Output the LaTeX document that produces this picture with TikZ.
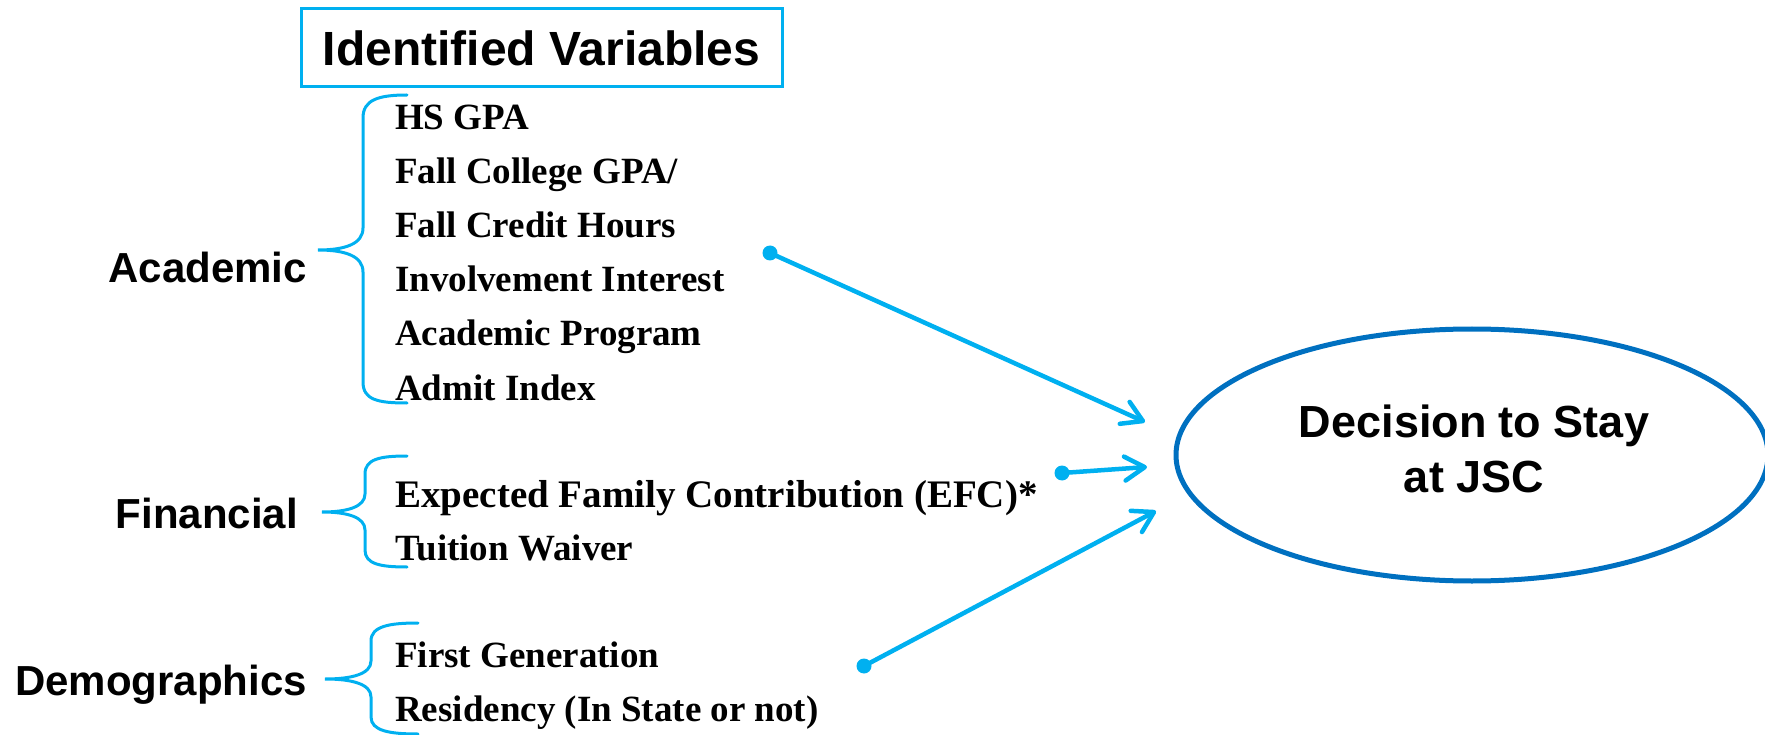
\documentclass[tikz,border=0pt]{standalone}
\usepackage{fontspec}
\setmainfont{Liberation Serif}
\newfontfamily\arialfont{Liberation Sans}
\usetikzlibrary{shapes.geometric,arrows.meta}
\definecolor{cyanline}{RGB}{0,176,240}
\definecolor{ovalblue}{RGB}{0,112,192}
\begin{document}
\begin{tikzpicture}[x=1pt,y=-1pt,
 item/.style={anchor=base west, inner sep=0pt, font=\fontsize{37}{44}\selectfont\bfseries},
 group/.style={anchor=base east, inner sep=0pt, font=\arialfont\fontsize{42}{48}\selectfont\bfseries},
 bracepath/.style={draw=cyanline, line width=3pt, line cap=round},
 link/.style={draw=cyanline, line width=4.5pt, line cap=round, -{Straight Barb[length=20pt,width=24pt,round]}},
 dotnode/.style={circle, fill=cyanline, inner sep=0pt, minimum size=15pt}]
\useasboundingbox (0,0) rectangle (1765,735);

% title
\node[draw=cyanline, line width=3pt, minimum width=481pt, minimum height=78pt, inner sep=0pt,
      font=\arialfont\fontsize{48}{56}\selectfont\bfseries] (title) at (541.5,48) {Identified Variables};

% group labels
\node[group] (academic) at (307,283) {Academic};
\node[group] (financial) at (298,528) {Financial};
\node[group] (demo) at (307,695) {Demographics};

% academic items
\node[item] (a1) at (395,130) {HS GPA};
\node[item] (a2) at (395,184) {Fall College GPA/};
\node[item] (a3) at (395,238) {Fall Credit Hours};
\node[item] (a4) at (395,292) {Involvement Interest};
\node[item] (a5) at (395,346) {Academic Program};
\node[item] (a6) at (395,400) {Admit Index};

% financial items
\node[item, font=\fontsize{39}{44}\selectfont\bfseries] (f1) at (395,507) {Expected Family Contribution (EFC)*};
\node[item] (f2) at (395,560) {Tuition Waiver};

% demographic items
\node[item] (g1) at (395,667) {First Generation};
\node[item] (g2) at (395,721) {Residency (In State or not)};

% braces
\draw[bracepath] (407,95) .. controls (378,95) and (363,100) .. (363,118) -- (363,228)
  .. controls (363,244) and (345,250) .. (318,250)
  .. controls (345,250) and (363,256) .. (363,272) -- (363,382)
  .. controls (363,400) and (378,403) .. (407,403);
\draw[bracepath] (407,456) .. controls (380,456) and (365,459) .. (365,474) -- (365,494)
  .. controls (365,507) and (347,512) .. (322,512)
  .. controls (347,512) and (365,517) .. (365,530) -- (365,550)
  .. controls (365,564) and (380,567) .. (407,567);
\draw[bracepath] (418,623) .. controls (390,623) and (371,626) .. (371,641) -- (371,661)
  .. controls (371,674) and (352,679) .. (325,679)
  .. controls (352,679) and (371,684) .. (371,697) -- (371,717)
  .. controls (371,731) and (390,734) .. (418,734);

% goal
\node[ellipse, draw=ovalblue, line width=5pt, minimum width=592pt, minimum height=252pt, inner sep=0pt] (goal) at (1472,455) {};
\node[font=\arialfont\fontsize{45}{55}\selectfont\bfseries, align=center, inner sep=0pt] (goaltext) at (1474,449) {Decision to Stay\\at JSC};

% connectors
\node[dotnode] (d1) at (770,253) {};
\node[dotnode] (d2) at (1062,473) {};
\node[dotnode] (d3) at (864,666) {};
\coordinate (t1) at (1145,422);
\coordinate (t2) at (1147,467);
\coordinate (t3) at (1156,511);
\draw[link] (d1.center) -- (t1);
\draw[link] (d2.center) -- (t2);
\draw[link] (d3.center) -- (t3);
\end{tikzpicture}
\end{document}
